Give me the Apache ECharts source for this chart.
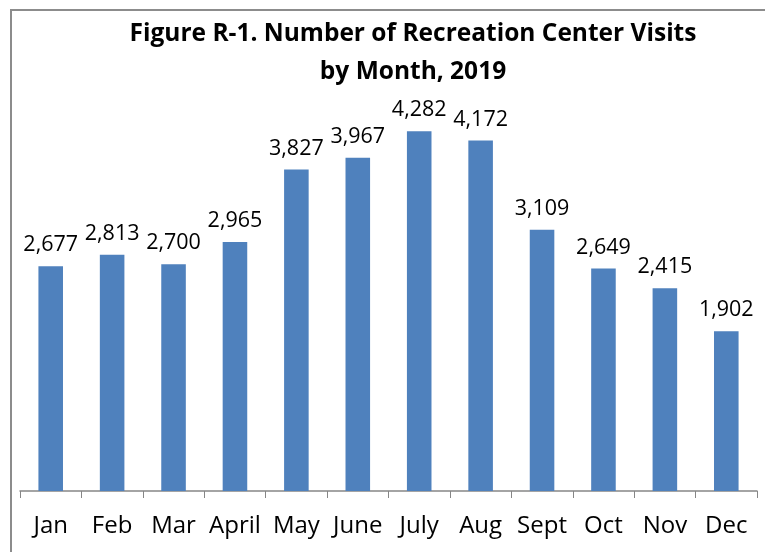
<!DOCTYPE html>
<html>
<head>
<meta charset="utf-8">
<script src="https://cdn.jsdelivr.net/npm/echarts@6/dist/echarts.min.js"></script>
<style>
html,body{margin:0;padding:0;background:#fff;}
#main{width:765px;height:552px;}
</style>
</head>
<body>
<div id="main"></div>
<script>
// months and visit counts
const months = ['Jan','Feb','Mar','April','May','June','July','Aug','Sept','Oct','Nov','Dec'];
const visits = [2677,2813,2700,2965,3827,3967,4282,4172,3109,2649,2415,1902];
const titleLines = ['Figure R-1. Number of Recreation Center Visits','by Month, 2019'];

const font = '"Open Sans", Lato, sans-serif';
let chart = echarts.init(document.getElementById('main'));
chart.setOption({
	animation:false,
	graphic:[
		{type:'rect',shape:{x:11,y:10,width:800,height:600},style:{fill:'none',stroke:'#8c8c8c',lineWidth:2}},
		{type:'text',style:{text:titleLines.join('\n'),font:'bold 24.5px '+font,fill:'#000',textAlign:'center',lineHeight:38},
			position:[413,15]}
	],
	grid:{left:20,right:8,top:71,bottom:61},
	xAxis:{
		type:'category',data:months,
		axisLine:{lineStyle:{color:'#868686',width:1.5}},
		axisTick:{show:true,length:7,lineStyle:{color:'#868686'}},
		axisLabel:{color:'#000',fontSize:24,fontFamily:font,margin:23,interval:0}
	},
	yAxis:{type:'value',min:0,max:5000,show:false,splitLine:{show:false}},
	series:[{
		type:'bar',data:visits,barWidth:'40%',
		itemStyle:{color:'#4F81BD'},
		label:{show:true,position:'top',distance:10,color:'#000',fontSize:21.5,fontFamily:font,
			formatter:p=>p.value.toLocaleString('en-US')}
	}]
});
</script>
</body>
</html>
